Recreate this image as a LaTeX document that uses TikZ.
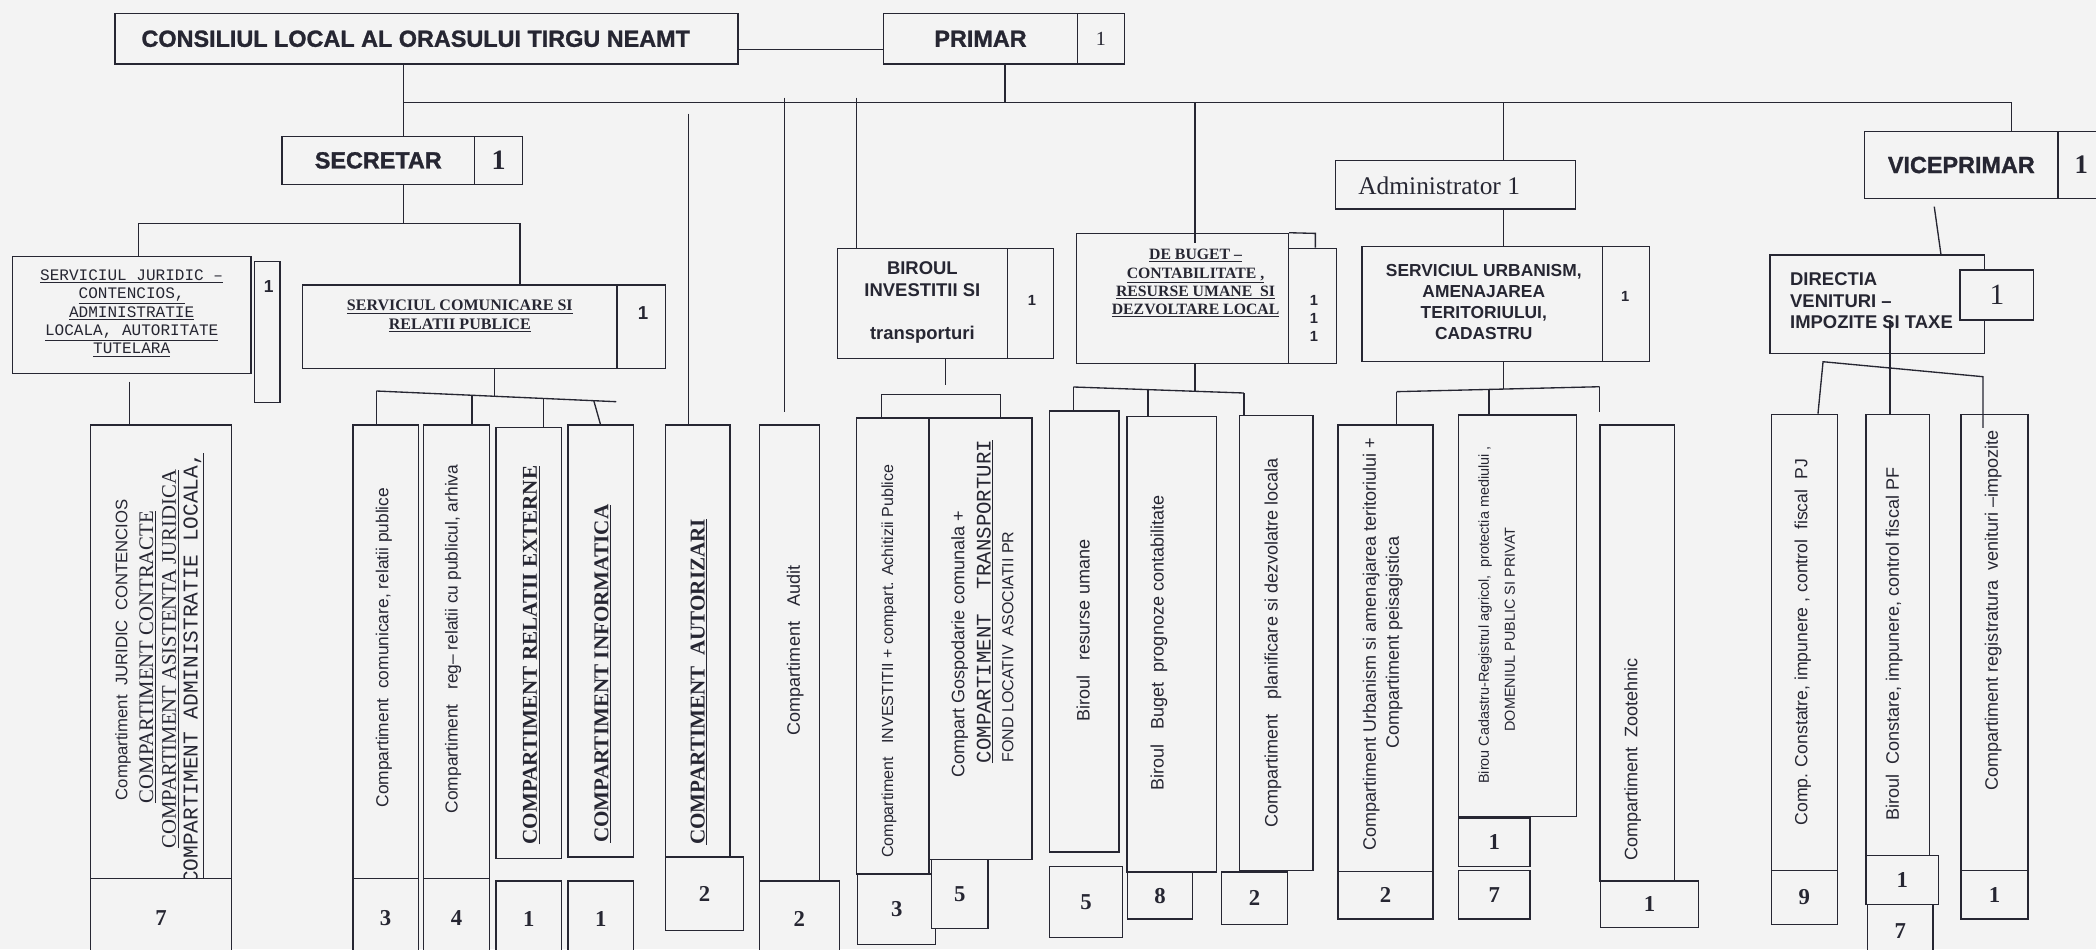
\documentclass[tikz,border=0pt]{standalone}
\usepackage{fontspec}
\setmainfont{Liberation Serif}
\setsansfont{Liberation Sans}
\setmonofont{Liberation Mono}
\newfontfamily\heavysans[BoldFeatures={FakeBold=1.2}]{Liberation Sans}
\definecolor{bg}{RGB}{243,243,243}
\definecolor{ink}{RGB}{38,38,50}
\newcommand\headf{\heavysans\bfseries\fontsize{17.5}{17.5}\selectfont}
\newcommand\numf{\rmfamily\bfseries\fontsize{17}{17}\selectfont}
\newcommand\sfs[1]{\sffamily\fontsize{#1}{#1}\selectfont}
\newcommand\rms[1]{\rmfamily\fontsize{#1}{#1}\selectfont}
\newcommand\mkbox[5]{\node[box,minimum width={(#4)-(#2)},minimum height={(#5)-(#3)}] (#1) at ({((#2)+(#4))/2},{((#3)+(#5))/2}) {};}
\newcommand\mkboxt[6]{\node[box,minimum width={(#4)-(#2)},minimum height={(#5)-(#3)}] (#1) at ({((#2)+(#4))/2},{((#3)+(#5))/2}) {#6};}
\begin{document}
\begin{tikzpicture}[x=1pt,y=-1pt,
  box/.style={draw=ink,line width=1pt,inner sep=0pt,fill=bg,text=ink},
  ln/.style={draw=ink,line width=1pt},
  vt/.style={rotate=90,inner sep=0pt,text=ink},
  tx/.style={inner sep=0pt,text=ink}]
\fill[bg] (0,0) rectangle (1568,710);
\useasboundingbox (0,0) rectangle (1568,710);

% ---------- top level ----------
\mkbox{cons}{86}{10}{552}{48}
\node[tx,font=\headf] (const) at (311,29) {CONSILIUL LOCAL AL ORASULUI TIRGU NEAMT};
\mkboxt{primar}{661}{10}{806}{48}{\headf PRIMAR}
\mkboxt{primarn}{806}{10}{841}{48}{\rms{15}1}
\mkboxt{secr}{211}{102}{355}{138}{\headf SECRETAR}
\mkboxt{secrn}{355}{102}{391}{138}{\rmfamily\bfseries\fontsize{21}{21}\selectfont 1}
\mkboxt{vice}{1395}{98.5}{1539.5}{148.4}{\headf VICEPRIMAR}
\mkbox{vicen}{1539.5}{98.5}{1600}{148.4}
\node[tx,font=\rmfamily\bfseries\fontsize{20}{20}\selectfont] (vicet) at (1557,123) {1};
\mkbox{admin}{999}{120}{1178.5}{156.4}
\node[tx,anchor=west,font=\rms{19}] (admint) at (1016,139) {Administrator 1};

% ---------- second level ----------
\mkbox{jur}{9.4}{192}{187.7}{279.3}
\node[tx,align=center,font=\ttfamily\fontsize{12}{13.7}\selectfont] (jurt) at (98.5,234.4)
  {\underline{SERVICIUL JURIDIC –}\\\underline{CONTENCIOS,}\\\underline{ADMINISTRATIE}\\\underline{LOCALA, AUTORITATE}\\\underline{TUTELARA}};
\mkbox{jurn}{190.4}{195.8}{209.4}{301.2}
\node[tx,font=\sffamily\bfseries\fontsize{13}{13}\selectfont] (jurnt) at (201,214.5) {1};

\mkbox{com}{226.5}{213.2}{461.6}{275.6}
\node[tx,align=center,font=\rmfamily\bfseries\fontsize{12}{13.7}\selectfont] (comt) at (344,236.5)
  {\underline{SERVICIUL COMUNICARE SI}\\\underline{RELATII PUBLICE}};
\mkbox{comn}{461.6}{213.2}{497.7}{275.6}
\node[tx,font=\sffamily\bfseries\fontsize{14}{14}\selectfont] (comnt) at (481,234.4) {1};

\mkbox{bir}{626.6}{185.8}{753.5}{268.1}
\mkbox{birn}{753.5}{185.8}{787.9}{268.1}
\node[tx,align=center,font=\sffamily\bfseries\fontsize{13.8}{16.2}\selectfont] (birt) at (690,226.3)
  {BIROUL\\INVESTITII SI\\\mbox{}\\transporturi};
\node[tx,font=\sffamily\bfseries\fontsize{11}{11}\selectfont] (birnt) at (772,224.5) {1};

\mkbox{buget}{805.3}{174.6}{963.9}{271.8}
\mkbox{bugetn}{963.9}{185.8}{999.7}{271.8}
\draw[ln] (buget.north east) -- (984,174.6) -- (bugetn.north -| 984,0);
\node[tx,align=center,font=\rmfamily\bfseries\fontsize{11.8}{13.7}\selectfont] (bugett) at (894.4,212)
  {\underline{DE BUGET –}\\\underline{CONTABILITATE ,}\\\underline{RESURSE UMANE\ \ SI}\\\underline{DEZVOLTARE LOCAL}};
\node[tx,align=center,font=\sffamily\bfseries\fontsize{11}{13.7}\selectfont] (bugetnt) at (983,238.2) {1\\1\\1};

\mkbox{urb}{1019}{184.5}{1198.6}{270.6}
\mkbox{urbn}{1198.6}{184.5}{1233.9}{270.6}
\node[tx,align=center,font=\sffamily\bfseries\fontsize{13}{15.8}\selectfont] (urbt) at (1110,226)
  {SERVICIUL URBANISM,\\AMENAJAREA\\TERITORIULUI,\\CADASTRU};
\node[tx,font=\sffamily\bfseries\fontsize{11}{11}\selectfont] (urbnt) at (1215.7,222) {1};

\mkbox{dir}{1324}{190.8}{1484.6}{264.3}
\node[tx,anchor=west,align=left,font=\sffamily\bfseries\fontsize{13.8}{16.2}\selectfont] (dirt) at (1339,225)
  {DIRECTIA\\VENITURI –\\IMPOZITE SI TAXE};
\mkboxt{dirn}{1466.3}{202}{1521.4}{239.4}{\rms{22}1}

% ---------- bottom row: boxes and texts ----------
\mkbox{jc}{67.8}{318}{173}{657}
\node[vt,font=\sfs{12.5}] (jc1) at (92,486) {Compartiment\ \ JURIDIC\ \ CONTENCIOS};
\node[vt,font=\rms{15.5}] (jc2) at (110.5,491.5) {\underline{COMPARTIMENT CONTRACTE}};
\node[vt,font=\rms{15.5}] (jc3) at (127.5,493) {\underline{COMPARTIMENT ASISTENTA JURIDICA}};
\node[vt,font=\ttfamily\fontsize{15.8}{15.8}\selectfont] (jc4) at (145,500) {\underline{COMPARTIMENT ADMINISTRATIE LOCALA,}};
\mkboxt{jcn}{67.8}{657}{173}{716}{\numf 7}

\mkbox{ca}{264}{318}{313}{657}
\node[vt,font=\sfs{13}] (cat) at (287.2,484.5) {Compartiment\ \ comunicare, relatii publice};
\mkboxt{can}{264}{657}{313}{716}{\numf 3}
\mkbox{cb}{317}{318}{366}{657}
\node[vt,font=\sfs{13}] (cbt) at (339,478) {Compartiment\ \ \ reg– relatii cu publicul, arhiva};
\mkboxt{cbn}{317}{657}{366}{716}{\numf 4}
\mkbox{cc}{371}{320}{420}{642}
\node[vt,font=\rmfamily\bfseries\fontsize{15.8}{15.8}\selectfont] (cct) at (397.5,490) {\underline{COMPARTIMENT RELATII EXTERNE}};
\mkboxt{ccn}{371}{659}{420}{716}{\numf 1}
\mkbox{cd}{425}{318}{474}{641}
\node[vt,font=\rmfamily\bfseries\fontsize{15.8}{15.8}\selectfont] (cdt) at (451,504) {\underline{COMPARTIMENT INFORMATICA}};
\mkboxt{cdn}{425}{659}{474}{716}{\numf 1}

\mkbox{aut}{498}{318}{546}{641}
\node[vt,font=\rmfamily\bfseries\fontsize{15.8}{15.8}\selectfont] (autt) at (523,510) {\underline{COMPARTIMENT\ \ AUTORIZARI}};
\mkboxt{autn}{498}{641}{556}{696}{\numf 2}

\mkbox{aud}{568}{318}{613}{659}
\node[vt,font=\sfs{13.5}] (audt) at (594.8,486.6) {Compartiment\ \ \ Audit};
\mkboxt{audn}{568}{659}{628}{716}{\numf 2}

\mkbox{inv}{640.6}{312.8}{695}{653.7}
\node[vt,font=\sfs{12}] (invt) at (665,494.6) {Compartiment\ \ \ INVESTITII + compart. Achitizii Publice};
\mkboxt{invn}{641.6}{653.7}{700}{706.6}{\numf 3}
\mkbox{gos}{695}{312.8}{772}{642.8}
\node[vt,font=\sfs{13.5}] (gos1) at (718,482) {Compart Gospodarie comunala +};
\node[vt,font=\ttfamily\fontsize{15.5}{15.5}\selectfont] (gos2) at (737,450) {\underline{COMPARTIMENT\ \ TRANSPORTURI}};
\node[vt,font=\sfs{12}] (gos3) at (754,484) {FOND LOCATIV\ \ ASOCIATII PR};
\mkboxt{gosn}{697}{642.8}{739}{694.4}{\numf 5}

\mkbox{res}{785.2}{307.4}{837}{637.4}
\node[vt,font=\sfs{13.5}] (rest) at (810.3,471.7) {Biroul\ \ \ resurse umane};
\mkboxt{resn}{785.2}{648.3}{839.7}{701.2}{\numf 5}
\mkbox{bug}{843}{311.5}{909.8}{652.3}
\node[vt,font=\sfs{13.5}] (bugt) at (867,481) {Biroul\ \ \ Buget\ \ prognoze contabilitate};
\mkboxt{bugn}{843.7}{652.3}{892.1}{687.6}{\numf 8}
\mkbox{pla}{927.2}{310.6}{982.3}{651}
\node[vt,font=\sfs{13.5}] (plat) at (952.2,481) {Compartiment\ \ \ planificare si dezvolatre locala};
\mkboxt{plan}{913.8}{652.3}{963.3}{691.7}{\numf 2}

\mkbox{urc}{1001}{318}{1072}{652}
\node[vt,font=\sfs{13.5}] (urc1) at (1025.8,482) {Compartiment Urbanism si amenajarea teritoriului +};
\node[vt,font=\sfs{13.5}] (urc2) at (1042.9,480.5) {Compartiment peisagistica};
\mkboxt{urcn}{1001}{652}{1072}{687.5}{\numf 2}
\mkbox{cad}{1091}{310.5}{1179.5}{611}
\node[vt,font=\sfs{10.8}] (cad1) at (1111,460) {Birou Cadastru-Registrul agricol,\ \ protectia mediului ,};
\node[vt,font=\sfs{10.8}] (cad2) at (1129.6,471) {DOMENIUL PUBLIC SI PRIVAT};
\mkboxt{cadn}{1091}{612}{1144.6}{648}{\numf 1}
\mkboxt{cadm}{1091}{651}{1144.6}{687.5}{\numf 7}
\mkbox{zoo}{1197}{318}{1252.5}{659}
\node[vt,font=\sfs{13.5}] (zoot) at (1221.4,568) {Compartiment\ \ Zootehnic};
\mkboxt{zoon}{1197.4}{659}{1270.7}{694}{\numf 1}

\mkbox{con}{1325}{310}{1374.4}{651}
\node[vt,font=\sfs{13.2}] (cont) at (1348.6,480.5) {Comp. Constatre, impunere , control\ \ fiscal\ \ PJ};
\mkboxt{conn}{1325}{651}{1374.4}{691.6}{\numf 9}
\mkbox{bco}{1396}{310}{1443.5}{640}
\node[vt,font=\sfs{13.5}] (bcot) at (1417,482) {Biroul\ \ Constare, impunere, control fiscal PF};
\mkboxt{bcon}{1396}{640}{1450}{676.7}{\numf 1}
\mkboxt{bcom}{1397}{676.7}{1446}{716}{\numf 7}
\mkbox{reg}{1467}{310}{1517}{651}
\node[vt,font=\sfs{13.5}] (regt) at (1491,456.6) {Compartiment registratura\ \ venituri –impozite};
\mkboxt{regn}{1467}{651}{1517}{687.5}{\numf 1}

% ---------- connectors ----------
\coordinate (bus0) at (302,76.5);
\coordinate (bus1) at (1505,76.5);
\coordinate (pd) at (751.7,76.5);
\draw[ln] ([yshift=-8pt]cons.east) -- ([yshift=-8pt]primar.west);
\draw[ln] (cons.south -| bus0) -- (secr.north -| bus0);
\draw[ln] (bus0) -- (bus1) -- (vice.north -| bus1);
\draw[ln] (primar.south -| pd) -- (pd);
\coordinate (bA) at (515,85);
\draw[ln] (bA) -- (bA |- aut.north);
\coordinate (bB) at (587,73); \coordinate (bBe) at (587,308);
\draw[ln] (bB) -- (bBe);
\coordinate (bC) at (640.5,73);
\draw[ln] (bC) -- (bC |- bir.north);
\coordinate (bD) at (894,76.5); \coordinate (bDe) at (894,182);
\draw[ln] (bD) -- (bDe);
\coordinate (bE) at (1124.5,76.5);
\draw[ln] (bE) -- (bE |- admin.north);
\draw[ln] (admin.south -| bE) -- (urb.north -| bE);

% secretar branch
\coordinate (sb) at (302,167); \coordinate (sbl) at (103.5,167); \coordinate (sbr) at (389,167);
\draw[ln] (secr.south -| sb) -- (sb);
\draw[ln] (jur.north -| sbl) -- (sbl) -- (sbr) -- (com.north -| sbr);
\coordinate (jd) at (97,285.5);
\draw[ln] (jd) -- (jd |- jc.north);
\coordinate (cml) at (281.6,292.5); \coordinate (cmr) at (461,300.5);
\draw[ln] (com.south -| 370,0) -- (370,296.4);
\draw[ln] (cml) -- (cmr);
\draw[ln] (cml) -- (cml |- ca.north);
\draw[ln] (353,295.7) -- (cb.north -| 353,0);
\draw[ln] (406.8,298.1) -- (cc.north -| 406.8,0);
\draw[ln] (444.2,299.7) -- (cd.north -| 449.2,0);

% biroul investitii
\draw[ln] (bir.south -| 707.4,0) -- (707.4,288);
\draw[ln] (inv.north -| 659.3,0) -- (659.3,295.3) -- (748.5,295.3) -- (gos.north -| 748.5,0);

% buget
\draw[ln] (buget.south -| bD) -- (894,292.7);
\coordinate (bgl) at (803,289.5); \coordinate (bgr) at (930.5,294);
\draw[ln] (bgl) -- (bgr);
\draw[ln] (bgl) -- (bgl |- res.north);
\draw[ln] (858.7,291.5) -- (bug.north -| 858.7,0);
\draw[ln] (bgr) -- (bgr |- pla.north);

% urbanism
\draw[ln] (urb.south -| bE) -- (1124.5,291.1);
\coordinate (ubl) at (1044.8,293); \coordinate (ubr) at (1196.7,289.3);
\draw[ln] (ubl) -- (ubr);
\draw[ln] (ubl) -- (ubl |- urc.north);
\draw[ln] (1113.9,291.3) -- (cad.north -| 1113.9,0);
\draw[ln] (ubr) -- (1196.7,307.9);

% viceprimar / directia
\draw[ln] (1447,154.6) -- (dir.north -| 1452,0);
\coordinate (dl) at (1363.8,270.6); \coordinate (dr) at (1483.4,281.8);
\draw[ln] (con.north -| 1360,0) -- (dl) -- (dr) -- (1483.4,320);
\draw[ln] (1413.9,239.4) -- (bco.north -| 1413.9,0);
\end{tikzpicture}
\end{document}
